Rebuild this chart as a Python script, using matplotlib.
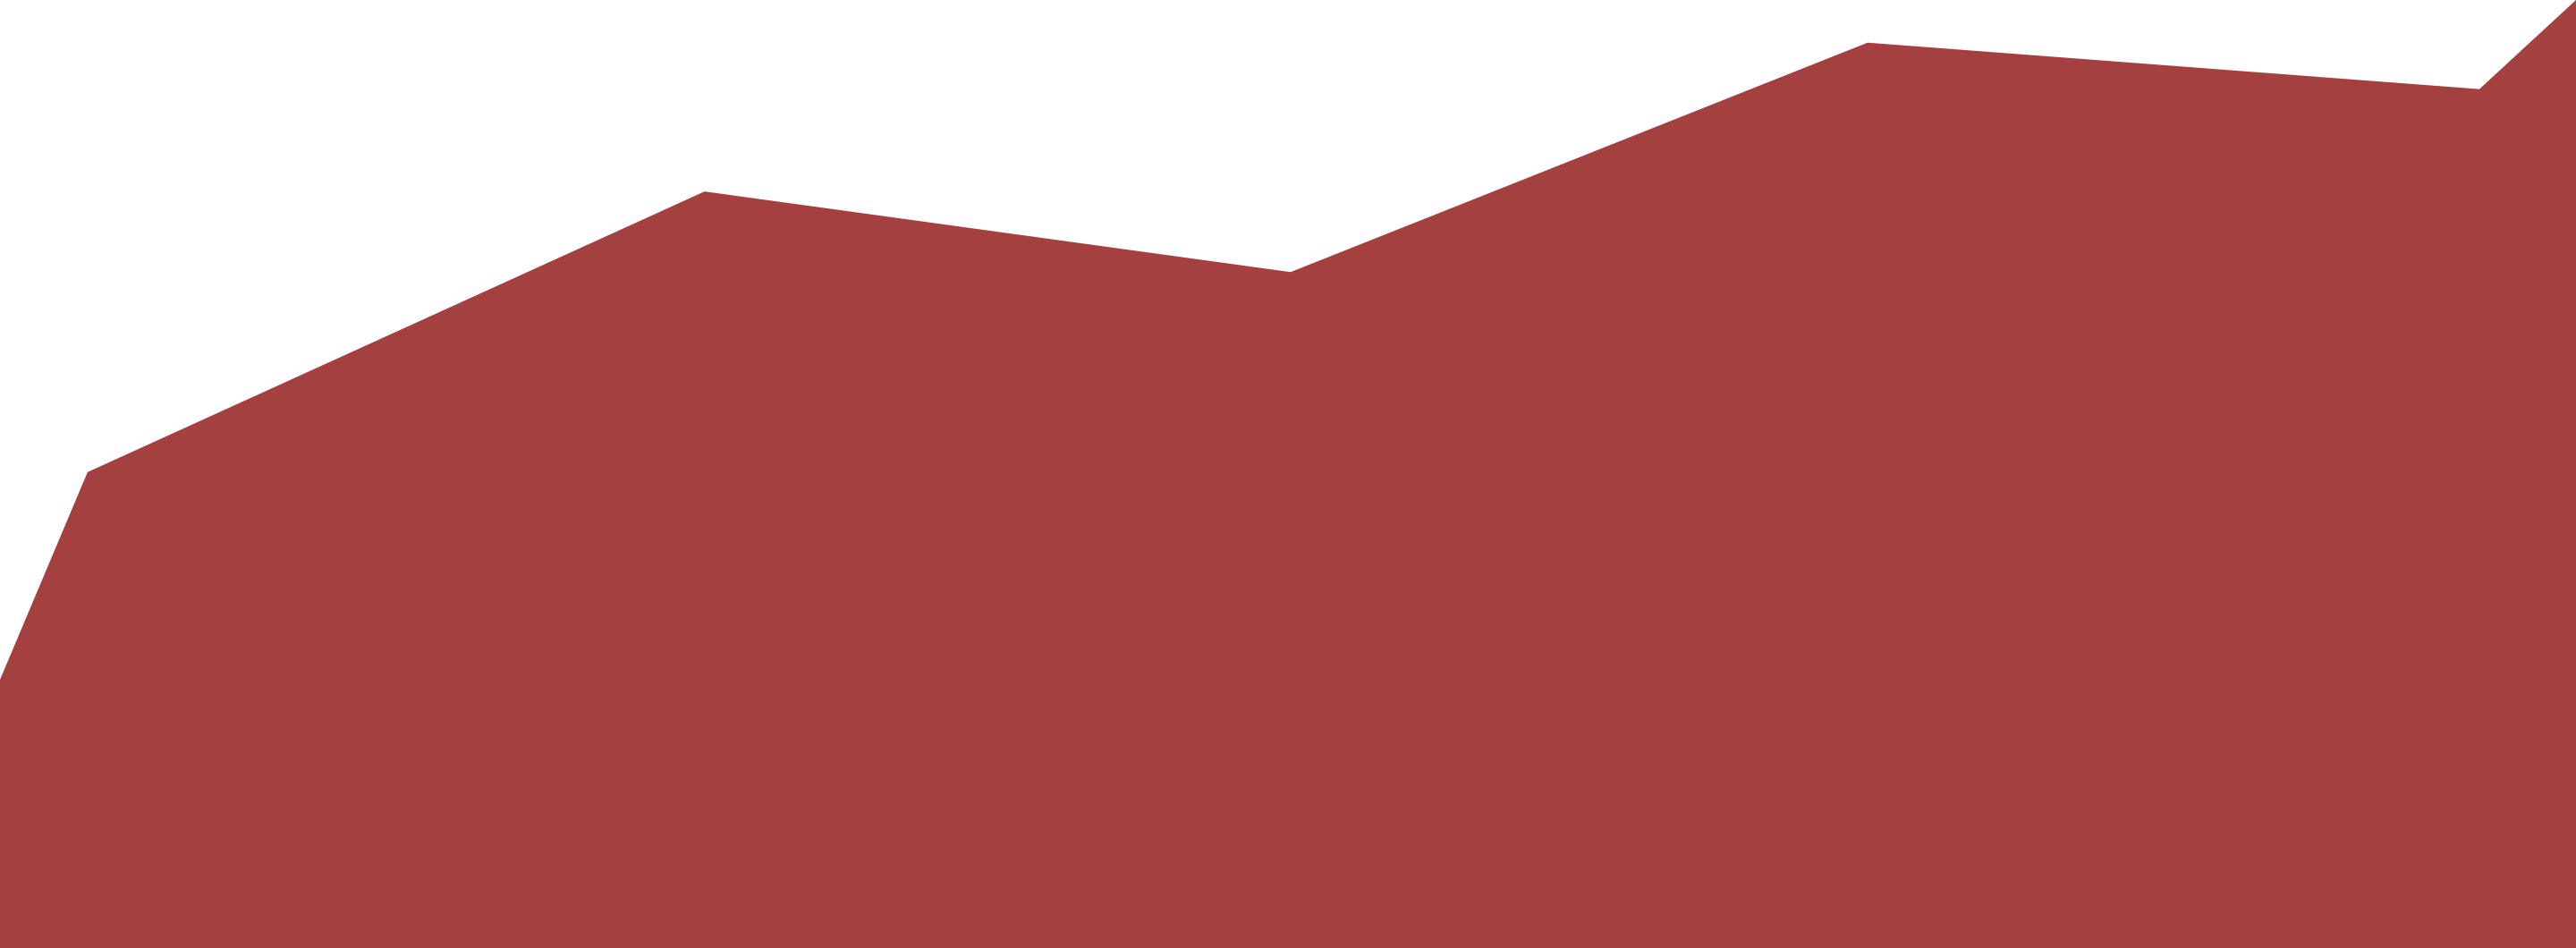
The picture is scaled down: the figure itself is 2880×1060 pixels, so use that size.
import matplotlib
matplotlib.use("Agg")
import matplotlib.pyplot as plt

# area series (x as percent of width, y as percent of height)
x_vals = [0, 3.4, 27.35, 50.1, 72.5, 96.25, 100]
y_vals = [28.3, 50.2, 79.8, 71.3, 95.5, 90.6, 100]

fig = plt.figure(figsize=(28.8, 10.6), dpi=100)
ax = fig.add_axes([0, 0, 1, 1])
ax.fill_between(x_vals, y_vals, 0, color="#a54040", linewidth=0)
ax.set_xlim(0, 100)
ax.set_ylim(0, 100)
ax.axis("off")

fig.savefig("out.png", dpi=100)
